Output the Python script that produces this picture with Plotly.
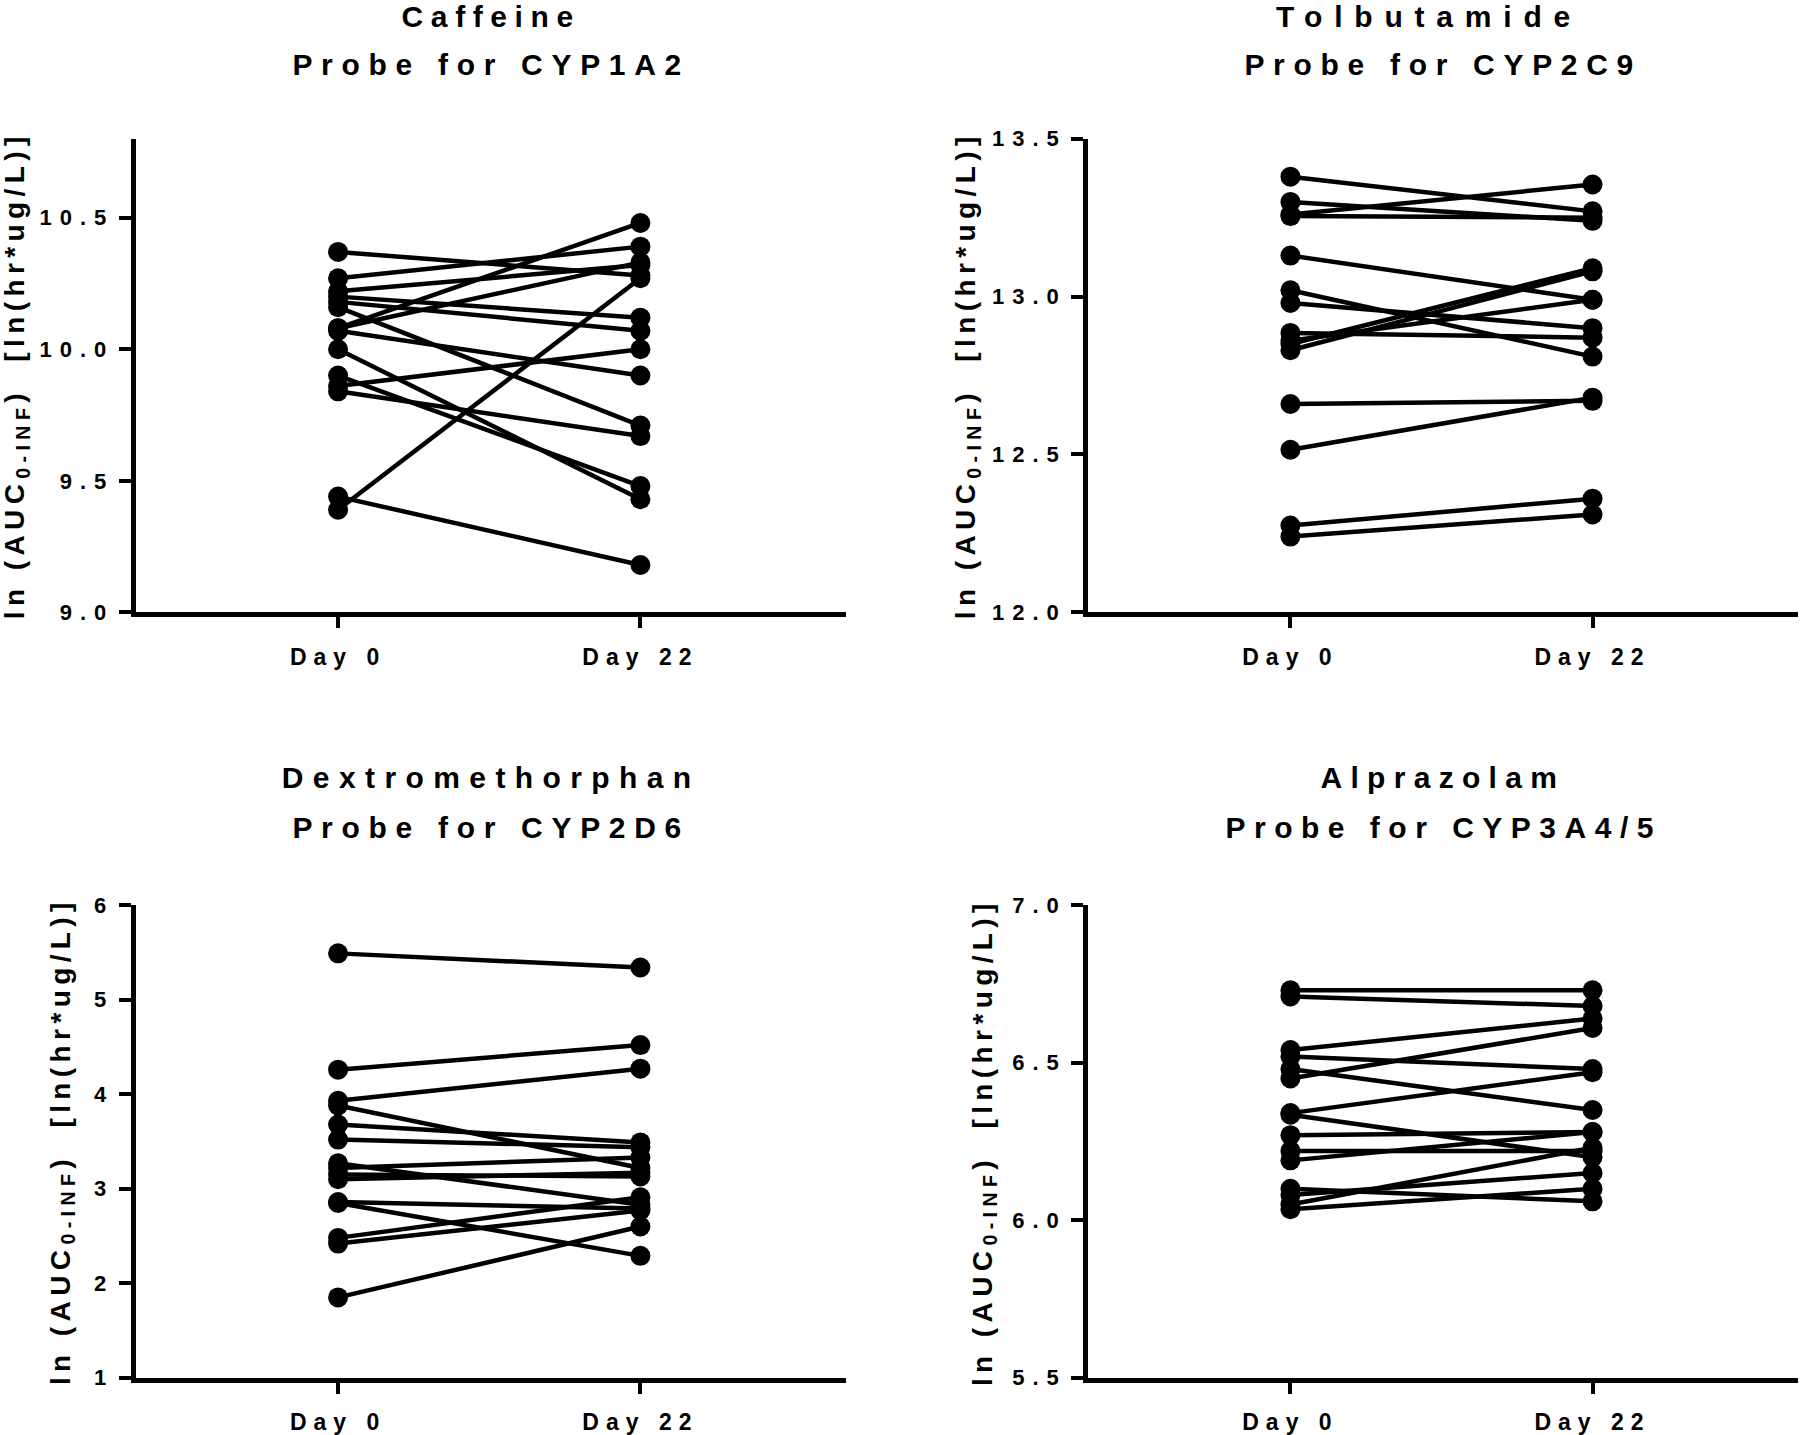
import plotly.graph_objects as go

# ---------------- data ----------------
days = ["Day 0", "Day 22"]

caffeine_day0 = [10.37, 10.27, 10.22, 10.20, 10.18, 10.16, 10.08, 10.08, 10.07, 10.00, 9.90, 9.86, 9.84, 9.44, 9.39]
caffeine_day22 = [10.28, 10.39, 10.32, 10.12, 10.07, 9.71, 10.48, 10.33, 9.90, 9.43, 9.48, 10.00, 9.67, 9.18, 10.27]

tolbutamide_day0 = [13.38, 13.30, 13.26, 13.255, 13.13, 13.02, 12.98, 12.885, 12.86, 12.85, 12.83, 12.66, 12.515, 12.275, 12.24]
tolbutamide_day22 = [13.27, 13.24, 13.355, 13.25, 12.99, 12.81, 12.90, 12.87, 12.99, 13.09, 13.08, 12.67, 12.68, 12.36, 12.31]

dextro_day0 = [5.49, 4.26, 3.93, 3.88, 3.68, 3.52, 3.27, 3.22, 3.15, 3.10, 2.86, 2.85, 2.48, 2.42, 1.85]
dextro_day22 = [5.34, 4.52, 4.27, 3.22, 3.49, 3.44, 2.83, 3.33, 3.13, 3.17, 2.79, 2.29, 2.91, 2.77, 2.60]

alpra_day0 = [6.73, 6.71, 6.54, 6.52, 6.48, 6.45, 6.34, 6.335, 6.27, 6.22, 6.19, 6.10, 6.08, 6.05, 6.035]
alpra_day22 = [6.73, 6.68, 6.64, 6.48, 6.35, 6.61, 6.47, 6.20, 6.28, 6.22, 6.28, 6.06, 6.15, 6.23, 6.10]

titles_line1 = ["Caffeine", "Tolbutamide", "Dextromethorphan", "Alprazolam"]
titles_line2 = ["Probe for CYP1A2", "Probe for CYP2C9", "Probe for CYP2D6", "Probe for CYP3A4/5"]

y_ranges = [[9.0, 10.8], [12.0, 13.5], [1, 6], [5.5, 7.0]]
y_ticks = [[9.0, 9.5, 10.0, 10.5], [12.0, 12.5, 13.0, 13.5], [1, 2, 3, 4, 5, 6], [5.5, 6.0, 6.5, 7.0]]
y_fmt = [".1f", ".1f", "d", ".1f"]

ytitle = "ln (AUC<sub>0-INF</sub>)  [ln(hr*ug/L)]"

panels = [
    (caffeine_day0, caffeine_day22),
    (tolbutamide_day0, tolbutamide_day22),
    (dextro_day0, dextro_day22),
    (alpra_day0, alpra_day22),
]

# ---------------- layout geometry (pixels) ----------------
W, H = 1800, 1435
x_doms_px = [(135.5, 846), (1088, 1798), (135.5, 846), (1088, 1798)]
y_doms_px = [(129, 611), (129, 611), (909, 1390), (909, 1390)]
title_y_px = [(5, 53), (5, 53), (779, 830), (779, 830)]
title1_dx = [0, -14, 0, 0]
ytitle_x_px = [17, 968, 62, 984]
title1_spacing = [7.6, 11.8, 9.4, 8.3]
title2_spacing = [8.7, 8.7, 8.7, 8.5]

fig = go.Figure()
FONT = "Liberation Sans, Arial, sans-serif"

annotations = []
ann_spacing = []
for i, (d0, d22) in enumerate(panels):
    xs, ys = [], []
    for a, b in zip(d0, d22):
        xs += [0, 1, None]
        ys += [a, b, None]
    ax = "" if i == 0 else str(i + 1)
    fig.add_trace(go.Scatter(
        x=xs, y=ys, mode="lines+markers", xaxis="x" + ax, yaxis="y" + ax,
        line=dict(color="black", width=4.5),
        marker=dict(color="black", size=20),
        showlegend=False, hoverinfo="skip", cliponaxis=False,
    ))
    x0, x1 = x_doms_px[i]
    y0, y1 = y_doms_px[i]
    common = dict(showgrid=False, zeroline=False, showline=True, linecolor="black",
                  linewidth=4.5, ticks="outside", tickcolor="black")
    fig.layout["xaxis" + ax] = dict(
        domain=[x0 / W, x1 / W], anchor="y" + ax, range=[-0.67, 1.68],
        tickvals=[0, 1], ticktext=days, ticklen=11, tickwidth=3.5,
        tickfont=dict(family=FONT, size=23, color="black", weight="bold"),
        ticklabelstandoff=9, **common)
    fig.layout["yaxis" + ax] = dict(
        domain=[1 - y1 / H, 1 - y0 / H], anchor="x" + ax, range=y_ranges[i],
        tickvals=y_ticks[i], tickformat=y_fmt[i], ticklen=12, tickwidth=4,
        tickfont=dict(family=FONT, size=22, color="black", weight="bold"),
        ticklabelstandoff=0, **common)
    cx = (x0 + x1) / 2
    for t, ypx, sp, dx in ((titles_line1[i], title_y_px[i][0], title1_spacing[i], title1_dx[i]),
                           (titles_line2[i], title_y_px[i][1], title2_spacing[i], 0)):
        annotations.append(dict(text=t, x=(cx + dx) / W, y=1 - ypx / H, xref="paper", yref="paper",
                                xanchor="center", yanchor="middle", showarrow=False,
                                font=dict(family=FONT, size=30, color="black", weight="bold")))
        ann_spacing.append(sp)
    annotations.append(dict(text=ytitle, x=ytitle_x_px[i] / W, y=1 - (y0 + y1) / 2 / H,
                            xref="paper", yref="paper", xanchor="center", yanchor="middle",
                            textangle=-90, showarrow=False,
                            font=dict(family=FONT, size=28, color="black", weight="bold")))
    ann_spacing.append(5.4)

fig.update_layout(
    width=W, height=H, margin=dict(l=0, r=0, t=0, b=0),
    paper_bgcolor="white", plot_bgcolor="white",
    annotations=annotations,
)

css = ("body{margin:0;}"
       ".xaxislayer-above text{letter-spacing:7px;}"
       ".yaxislayer-above text{letter-spacing:8px;}")
for idx, sp in enumerate(ann_spacing):
    css += '.annotation[data-index="%d"] .annotation-text{letter-spacing:%spx;}' % (idx, sp)
post = "var s=document.createElement('style');s.textContent='%s';document.head.appendChild(s);" % css

fig.write_html("out.html", post_script=post, config={"displayModeBar": False})
